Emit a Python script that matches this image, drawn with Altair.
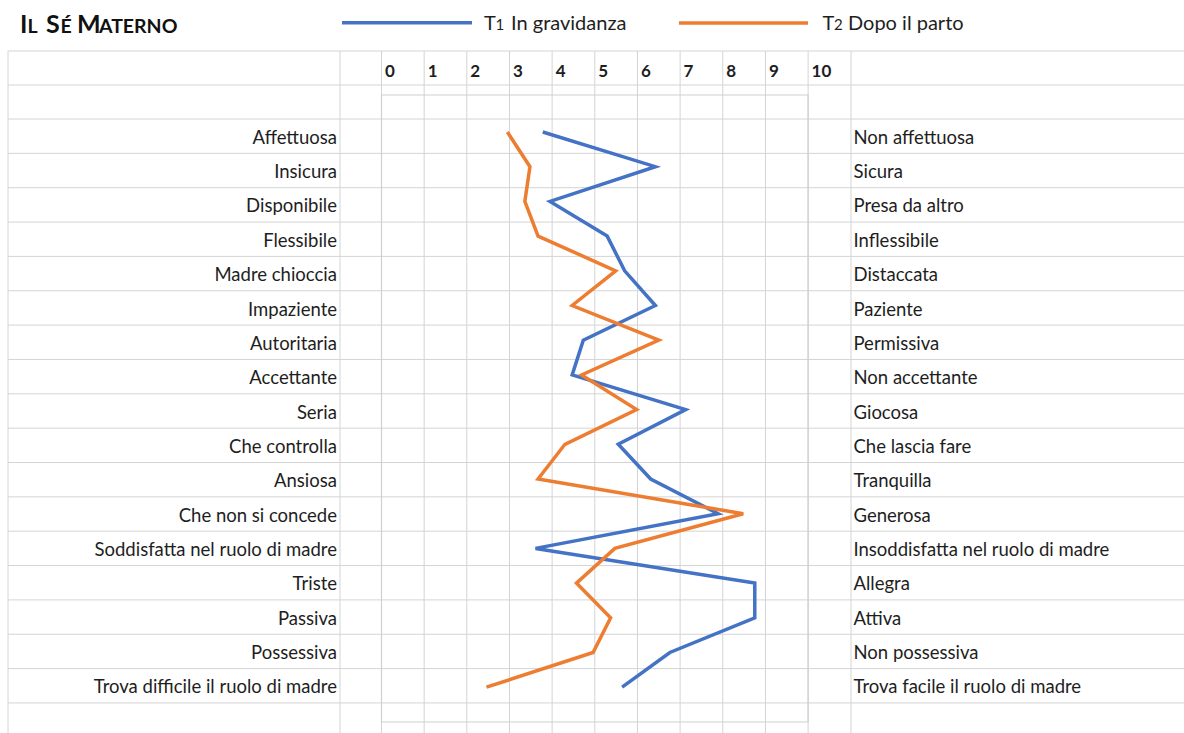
import altair as alt
import pandas as pd

# ---------------- data ----------------
left_labels = ["Affettuosa", "Insicura", "Disponibile", "Flessibile", "Madre chioccia",
               "Impaziente", "Autoritaria", "Accettante", "Seria", "Che controlla",
               "Ansiosa", "Che non si concede", "Soddisfatta nel ruolo di madre",
               "Triste", "Passiva", "Possessiva", "Trova difficile il ruolo di madre"]
right_labels = ["Non affettuosa", "Sicura", "Presa da altro", "Inflessibile", "Distaccata",
                "Paziente", "Permissiva", "Non accettante", "Giocosa", "Che lascia fare",
                "Tranquilla", "Generosa", "Insoddisfatta nel ruolo di madre",
                "Allegra", "Attiva", "Non possessiva", "Trova facile il ruolo di madre"]
t1_values = [3.78, 6.42, 3.95, 5.29, 5.70, 6.42, 4.73, 4.47, 7.13, 5.55,
             6.31, 7.89, 3.61, 8.75, 8.75, 6.76, 5.64]
t2_values = [2.95, 3.48, 3.36, 3.67, 5.49, 4.47, 6.50, 4.69, 5.98, 4.30,
             3.67, 8.48, 5.47, 4.57, 5.37, 4.96, 2.46]
series_names = ["T1 In gravidanza", "T2 Dopo il parto"]
series_colors = ["#4472C4", "#ED7D31"]
tick_labels = [str(i) for i in range(11)]

# ---------------- layout constants (pixels) ----------------
W, H = 1184, 733
FONT = "Lato"
TXT = "#1e1e1e"
GRID = "#d4d4d4"
ROW0 = 119.0          # first data-row top line
ROW_H = 34.35
HEADER_LINES = [51.0, 85.0]
COL_X0 = 381.5
COL_W = 42.66
PLOT_X = (COL_X0, COL_X0 + 10 * COL_W)
PLOT_Y = (95.0, 722.0)
N = len(left_labels)
LABEL_FS = 18.5

# ---------------- frames ----------------
rows = []
for i in range(N):
    rows.append({"series": series_names[0], "rank": i + 1, "value": t1_values[i]})
for i in range(N):
    rows.append({"series": series_names[1], "rank": i + 1, "value": t2_values[i]})
df_lines = pd.DataFrame(rows)

hlines = HEADER_LINES + [ROW0 + k * ROW_H for k in range(N + 1)]
df_h = pd.DataFrame({"y": hlines, "x1": 8.0, "x2": float(W)})
vcols = [8.0, 340.0] + [COL_X0 + k * COL_W for k in range(11)] + [851.0]
df_v = pd.DataFrame({"x": vcols, "y1": 51.0, "y2": float(H)})

df_left = pd.DataFrame({"label": left_labels,
                        "y": [ROW0 + (k + 1) * ROW_H - 9.6 for k in range(N)],
                        "x": 337.0})
df_right = pd.DataFrame({"label": right_labels,
                         "y": [ROW0 + (k + 1) * ROW_H - 9.6 for k in range(N)],
                         "x": 853.5})
df_ticks = pd.DataFrame({"label": tick_labels,
                         "x": [COL_X0 + 3.5 + k * COL_W for k in range(11)],
                         "y": 76.5})

title_segments = pd.DataFrame({
    "t": ["I", "L", "S", "É", "M", "ATERNO"],
    "x": [20.0, 27.5, 46.0, 60.5, 77.0, 99.0],
    "fs": [25, 19.5, 25, 19.5, 25, 19.5],
})

legend_text = pd.DataFrame({
    "t": ["T", "1", "In gravidanza", "T", "2", "Dopo il parto"],
    "x": [484.0, 495.5, 511.0, 822.5, 834.0, 848.0],
    "fs": [20, 15, 20, 20, 15, 20],
})
legend_lines = pd.DataFrame({"series": series_names,
                             "x1": [342.0, 679.0], "x2": [472.0, 808.0], "y": [22.7, 23.0]})

# ---------------- layers ----------------
px = dict(scale=None)

h_rules = alt.Chart(df_h).mark_rule(color=GRID, strokeWidth=1).encode(
    x=alt.X("x1:Q", **px), x2="x2:Q", y=alt.Y("y:Q", **px))
v_rules = alt.Chart(df_v).mark_rule(color=GRID, strokeWidth=1).encode(
    x=alt.X("x:Q", **px), y=alt.Y("y1:Q", **px), y2="y2:Q")

plot_box = alt.Chart(df_h.head(1)).mark_rect(fillOpacity=0, stroke="#d0d0d0", strokeWidth=1.2).encode(
    x=alt.value(PLOT_X[0]), x2=alt.value(PLOT_X[1]),
    y=alt.value(PLOT_Y[0]), y2=alt.value(PLOT_Y[1]))

left_txt = alt.Chart(df_left).mark_text(align="right", baseline="alphabetic", font=FONT,
                                        fontSize=LABEL_FS, color=TXT).encode(
    x=alt.X("x:Q", **px), y=alt.Y("y:Q", **px), text="label:N")
right_txt = alt.Chart(df_right).mark_text(align="left", baseline="alphabetic", font=FONT,
                                          fontSize=LABEL_FS, color=TXT).encode(
    x=alt.X("x:Q", **px), y=alt.Y("y:Q", **px), text="label:N")
tick_txt = alt.Chart(df_ticks).mark_text(align="left", baseline="alphabetic", font=FONT,
                                         fontSize=17, fontWeight="bold", color=TXT).encode(
    x=alt.X("x:Q", **px), y=alt.Y("y:Q", **px), text="label:N")

title_txt = alt.Chart(title_segments).mark_text(align="left", baseline="alphabetic", font=FONT,
                                                fontWeight="bold", color="#111111").encode(
    x=alt.X("x:Q", **px), y=alt.value(33.0), text="t:N", size=alt.Size("fs:Q", scale=None))

leg_lines = alt.Chart(legend_lines).mark_rule(strokeWidth=3.5).encode(
    x=alt.X("x1:Q", **px), x2="x2:Q", y=alt.Y("y:Q", **px),
    color=alt.Color("series:N", scale=alt.Scale(domain=series_names, range=series_colors), legend=None))
leg_txt = alt.Chart(legend_text).mark_text(align="left", baseline="alphabetic", font=FONT,
                                           color=TXT).encode(
    x=alt.X("x:Q", **px), y=alt.value(30.0), text="t:N", size=alt.Size("fs:Q", scale=None))

data_lines = alt.Chart(df_lines).mark_line(strokeWidth=3.5).encode(
    x=alt.X("value:Q", scale=alt.Scale(domain=[0, 10], range=list(PLOT_X), nice=False, zero=False), axis=None),
    y=alt.Y("rank:Q", scale=alt.Scale(domain=[0, N + 1], range=[97.3, 721.9], nice=False, zero=False), axis=None),
    color=alt.Color("series:N", scale=alt.Scale(domain=series_names, range=series_colors), legend=None),
    order=alt.Order("rank:Q"),
    detail="series:N",
)

chart = alt.layer(
    h_rules, v_rules, plot_box, left_txt, right_txt, tick_txt, title_txt,
    leg_lines, leg_txt, data_lines
).resolve_scale(x="independent", y="independent", color="independent", size="independent").properties(
    width=W, height=H, padding=0, autosize=alt.AutoSizeParams(type="none"), background="white"
).configure_view(strokeWidth=0)

chart.save("out.html", embed_options={"renderer": "svg", "actions": False})
